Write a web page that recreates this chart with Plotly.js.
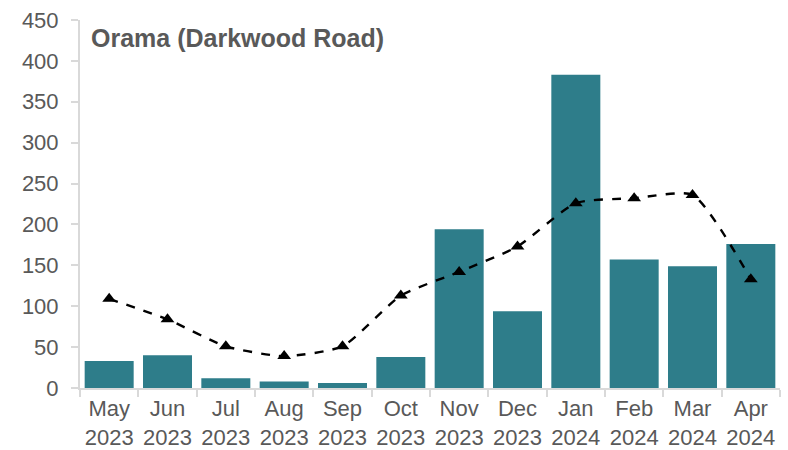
<!DOCTYPE html>
<html><head><meta charset="utf-8">
<script src="https://cdn.plot.ly/plotly-3.0.1.min.js"></script>
<style>body{margin:0;background:#fff}#c{width:788px;height:450px}</style>
</head><body><div id="c"></div>
<script>
const months = ["May<br>2023","Jun<br>2023","Jul<br>2023","Aug<br>2023","Sep<br>2023","Oct<br>2023","Nov<br>2023","Dec<br>2023","Jan<br>2024","Feb<br>2024","Mar<br>2024","Apr<br>2024"];
const barValues = [33, 40, 12, 8, 6, 38, 194, 94, 383, 157, 149, 176];
const lineValues = [109, 84, 51, 39, 51, 113, 142, 173, 226, 232, 236, 133];
const chartTitle = "Orama (Darkwood Road)";

const font = {family: "Liberation Sans, Arial, sans-serif", size: 22, color: "#595959"};
Plotly.newPlot("c", [
  {type: "bar", x: months, y: barValues, marker: {color: "#2e7d8a"}, hoverinfo: "none"},
  {type: "scatter", mode: "lines+markers", x: months, y: lineValues,
   line: {color: "#000", width: 2.4, dash: "dash", shape: "spline", smoothing: 0.6},
   marker: {symbol: "triangle-up", size: 12, color: "#000"}}
], {
  width: 788, height: 450, showlegend: false, bargap: 0.16,
  margin: {l: 80, r: 8, t: 20, b: 62},
  paper_bgcolor: "#fff", plot_bgcolor: "#fff", font: font,
  xaxis: {range: [-0.5, 11.5], tickangle: 0, showline: true, linecolor: "#d9d9d9", linewidth: 2, ticks: "outside", tickson: "boundaries",
          ticklen: 7, tickcolor: "#d9d9d9", tickwidth: 2, showgrid: false, tickfont: font, fixedrange: true, automargin: false},
  yaxis: {range: [0, 450], dtick: 50, showline: true, linecolor: "#d9d9d9", linewidth: 2, ticks: "outside",
          ticklen: 7, tickcolor: "#d9d9d9", tickwidth: 2, showgrid: false, zeroline: false, tickfont: font,
          ticklabelstandoff: 8, fixedrange: true, automargin: false},
  annotations: [{text: "<b>" + chartTitle + "</b>", xref: "paper", yref: "paper", x: 0.013, y: 0.95,
                 xanchor: "left", yanchor: "middle", showarrow: false,
                 font: {family: "Liberation Sans, Arial, sans-serif", size: 25, color: "#595959"}}]
}, {displayModeBar: false, staticPlot: true});
</script></body></html>
